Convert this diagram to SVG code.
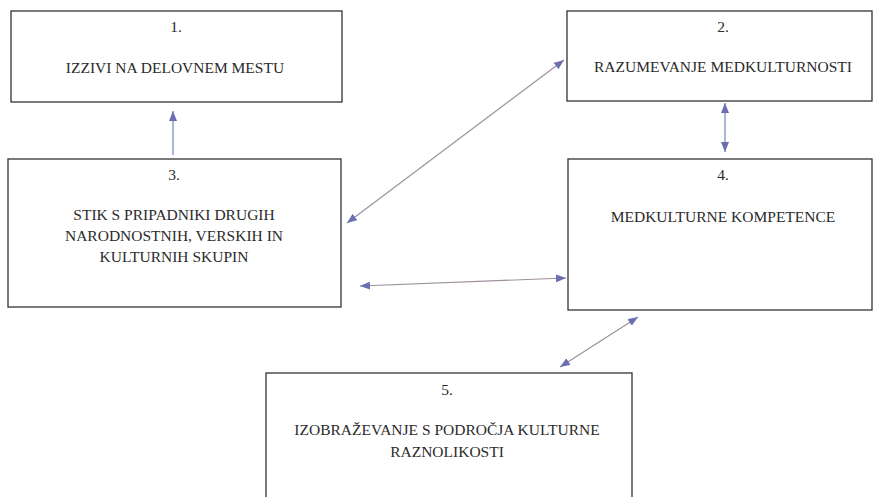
<svg xmlns="http://www.w3.org/2000/svg" width="873" height="497" viewBox="0 0 873 497">
<defs>
<style>
.box{fill:#ffffff;stroke:#333333;stroke-width:1.3}
.c{fill:none;stroke:#9d8f9e;stroke-width:1.2}
.cb{fill:none;stroke:#7f8fc4;stroke-width:1.3}
</style>
<marker id="ah" viewBox="0 0 10 8" refX="10" refY="4" markerWidth="10" markerHeight="8" markerUnits="userSpaceOnUse" orient="auto-start-reverse">
<path d="M0,0 L10,4 L0,8 z" fill="#6b6fb2"/>
</marker>
</defs>
<rect width="873" height="497" fill="#ffffff"/>
<g font-family="Liberation Serif, Times New Roman, serif" font-size="15.5" fill="#2a2a2a" text-anchor="middle">
<g id="node1">
<rect class="box" x="11" y="11" width="331" height="91"/>
<text x="176" y="32">1.</text>
<text x="175" y="73">IZZIVI NA DELOVNEM MESTU</text>
</g>
<g id="node2">
<rect class="box" x="567" y="11" width="305" height="90"/>
<text x="723" y="32">2.</text>
<text x="723" y="72">RAZUMEVANJE MEDKULTURNOSTI</text>
</g>
<g id="node3">
<rect class="box" x="8" y="159" width="333" height="148"/>
<text x="174" y="180">3.</text>
<text x="174" y="220">STIK S PRIPADNIKI DRUGIH</text>
<text x="174" y="241">NARODNOSTNIH, VERSKIH IN</text>
<text x="174" y="262">KULTURNIH SKUPIN</text>
</g>
<g id="node4">
<rect class="box" x="568" y="159" width="304" height="151"/>
<text x="723" y="180">4.</text>
<text x="723" y="222">MEDKULTURNE KOMPETENCE</text>
</g>
<g id="node5">
<rect class="box" x="266" y="373" width="366" height="130"/>
<text x="447" y="395">5.</text>
<text x="447" y="435">IZOBRAŽEVANJE S PODROČJA KULTURNE</text>
<text x="447" y="457">RAZNOLIKOSTI</text>
</g>
</g>
<g id="connectors">
<line class="cb" x1="173" y1="155" x2="173" y2="111" marker-end="url(#ah)"/>
<line class="cb" x1="725" y1="103" x2="725" y2="152" marker-start="url(#ah)" marker-end="url(#ah)"/>
<line class="c" x1="347" y1="223" x2="564" y2="60" marker-start="url(#ah)" marker-end="url(#ah)"/>
<line class="c" x1="360" y1="286" x2="566" y2="278" marker-start="url(#ah)" marker-end="url(#ah)"/>
<line class="c" x1="638" y1="317" x2="560" y2="367" marker-start="url(#ah)" marker-end="url(#ah)"/>
</g>
</svg>
